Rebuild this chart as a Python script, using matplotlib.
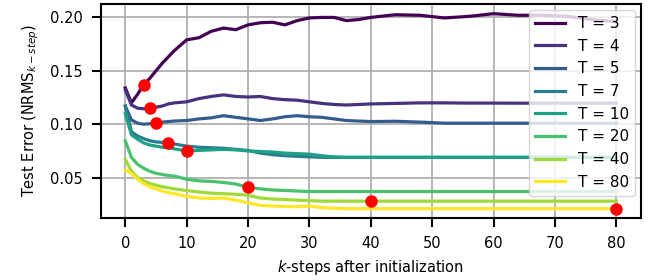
import numpy as np
import matplotlib
matplotlib.use("Agg")
import matplotlib.pyplot as plt

# k-steps after initialization (shared by all curves)
ksteps = [0, 1, 2, 3, 4, 5, 6, 7, 8, 10, 12, 14, 16, 18, 20, 22, 24, 26, 28, 30,
          32, 34, 36, 38, 40, 44, 48, 52, 56, 60, 64, 68, 72, 76, 80]

horizons = [3, 4, 5, 7, 10, 20, 40, 80]

err_T3 = [0.134, 0.120, 0.128, 0.137, 0.143, 0.150, 0.157, 0.163, 0.169, 0.179,
          0.181, 0.187, 0.190, 0.1885, 0.193, 0.195, 0.1955, 0.193, 0.197, 0.1995,
          0.200, 0.200, 0.197, 0.198, 0.200, 0.2025, 0.202, 0.1995, 0.201, 0.2035,
          0.202, 0.202, 0.201, 0.198, 0.196]
err_T4 = [0.132, 0.118, 0.115, 0.1145, 0.115, 0.116, 0.117, 0.119, 0.120, 0.121,
          0.124, 0.126, 0.1275, 0.126, 0.1255, 0.126, 0.124, 0.123, 0.1225, 0.121,
          0.1195, 0.1185, 0.118, 0.1185, 0.119, 0.1195, 0.120, 0.120, 0.1198, 0.1198,
          0.1197, 0.1197, 0.1197, 0.1197, 0.1197]
err_T5 = [0.117, 0.104, 0.101, 0.100, 0.1005, 0.101, 0.102, 0.1025, 0.103, 0.1035,
          0.105, 0.106, 0.108, 0.1065, 0.105, 0.1035, 0.105, 0.107, 0.108, 0.107,
          0.1065, 0.105, 0.1035, 0.103, 0.1025, 0.1028, 0.102, 0.101, 0.101, 0.101,
          0.101, 0.101, 0.101, 0.101, 0.101]
err_T7 = [0.117, 0.093, 0.089, 0.0865, 0.0845, 0.0835, 0.083, 0.0828, 0.0815, 0.0795,
          0.0785, 0.078, 0.0775, 0.0765, 0.0755, 0.073, 0.0715, 0.0705, 0.070, 0.0695,
          0.069, 0.069, 0.069, 0.069, 0.069, 0.069, 0.069, 0.069, 0.069, 0.069,
          0.069, 0.069, 0.069, 0.069, 0.069]
err_T10 = [0.110, 0.090, 0.086, 0.0825, 0.0805, 0.0795, 0.0785, 0.078, 0.077, 0.075,
           0.0755, 0.076, 0.0765, 0.076, 0.075, 0.0745, 0.074, 0.073, 0.0725, 0.072,
           0.0705, 0.0695, 0.069, 0.069, 0.069, 0.069, 0.069, 0.069, 0.069, 0.069,
           0.069, 0.069, 0.069, 0.069, 0.069]
err_T20 = [0.0844, 0.069, 0.0625, 0.0588, 0.056, 0.054, 0.053, 0.052, 0.0515, 0.0485,
           0.047, 0.0465, 0.0455, 0.044, 0.041, 0.0395, 0.0385, 0.038, 0.0375, 0.037,
           0.037, 0.037, 0.037, 0.037, 0.037, 0.037, 0.037, 0.037, 0.037, 0.037,
           0.037, 0.037, 0.037, 0.037, 0.037]
err_T40 = [0.0672, 0.056, 0.050, 0.047, 0.0445, 0.043, 0.0415, 0.0405, 0.0395, 0.038,
           0.0365, 0.0355, 0.035, 0.0345, 0.0335, 0.031, 0.030, 0.0295, 0.029, 0.0285,
           0.028, 0.028, 0.028, 0.028, 0.028, 0.028, 0.028, 0.028, 0.028, 0.028,
           0.028, 0.028, 0.028, 0.028, 0.028]
err_T80 = [0.057, 0.054, 0.0485, 0.0445, 0.0415, 0.0395, 0.0375, 0.036, 0.035, 0.0325,
           0.031, 0.0305, 0.031, 0.029, 0.0265, 0.024, 0.0235, 0.023, 0.0228, 0.0235,
           0.022, 0.0213, 0.021, 0.021, 0.021, 0.021, 0.021, 0.021, 0.021, 0.021,
           0.021, 0.021, 0.021, 0.021, 0.021]

curves = [err_T3, err_T4, err_T5, err_T7, err_T10, err_T20, err_T40, err_T80]

plt.rcParams["font.family"] = "DejaVu Sans"
plt.rcParams["font.size"] = 10.5

fig = plt.figure(figsize=(6.5, 2.8), dpi=100)
ax = fig.add_axes([0.155, 0.22, 0.831, 0.766])

colors = plt.cm.viridis(np.linspace(0, 1, len(horizons)))
for T, err, c in zip(horizons, curves, colors):
    ax.plot(ksteps, err, color=c, lw=2.3, label="T = %d" % T, zorder=3)

# red marker at k = T on each curve
for T, err in zip(horizons, curves):
    i = ksteps.index(T)
    ax.plot(ksteps[i], err[i], "o", color="red", ms=8, zorder=4)

ax.set_xticks(range(0, 81, 10))
ax.set_yticks([0.05, 0.10, 0.15, 0.20])
ax.grid(True, color="#b0b0b0", lw=1.3, zorder=0)
ax.set_axisbelow(True)
for s in ax.spines.values():
    s.set_linewidth(1.5)
    s.set_color("black")
ax.tick_params(direction="out", length=6.5, width=1.5, pad=6.5, colors="black",
               labelsize=10.5)

ax.set_xlabel("$k$-steps after initialization", labelpad=5)
ax.set_ylabel("Test Error (NRMS$_{k-step}$)", labelpad=6)

ax.legend(loc="upper right", fontsize=11, handlelength=2.0, borderaxespad=0.4)

fig.savefig("out.png", dpi=100)
